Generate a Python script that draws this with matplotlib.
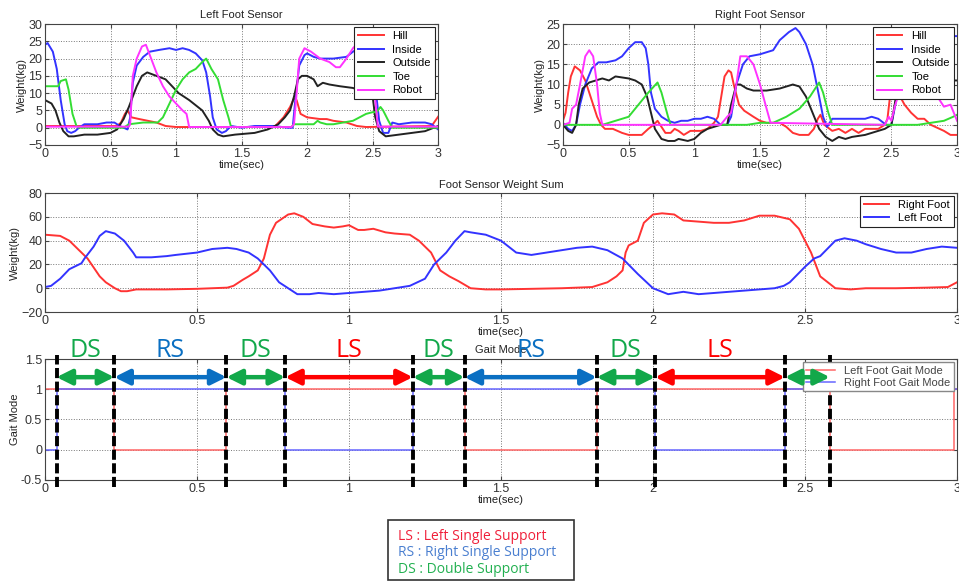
import matplotlib
matplotlib.use('Agg')
import matplotlib.pyplot as plt
from matplotlib.patches import Rectangle

plt.rcParams['font.family'] = ['Liberation Sans', 'DejaVu Sans']

## Data
# Left foot sensor (kg)
lf_hill_t = [0, 0.55, 0.58, 0.61, 0.63, 0.66, 0.72, 0.85, 0.92, 1.0, 1.75, 1.82, 1.87, 1.9, 1.92, 1.95, 2.0, 2.1,
             2.15, 2.2, 2.3, 2.38, 2.45, 2.95, 3.0]
lf_hill = [0.5, 0.5, 1.5, 4, 5, 3, 2.5, 1.5, 0.5, 0.2, 0.2, 3, 6, 8.5, 8, 4, 3, 2.5, 2.5, 2, 1.5, 0.5, 0.2, 0.5, 3.2]
lf_inside_t = [0, 0.02, 0.06, 0.09, 0.12, 0.15, 0.17, 0.2, 0.23, 0.26, 0.3, 0.4, 0.47, 0.53, 0.57, 0.6, 0.63, 0.65,
               0.67, 0.7, 0.75, 0.8, 0.87, 0.95, 1.0, 1.05, 1.1, 1.15, 1.2, 1.23, 1.26, 1.28, 1.31, 1.35, 1.38, 1.42,
               1.5, 1.6, 1.75, 1.85, 1.89, 1.91, 1.94, 1.98, 2.0, 2.05, 2.1, 2.2, 2.3, 2.35, 2.42, 2.5, 2.52, 2.55,
               2.58, 2.62, 2.65, 2.7, 2.8, 2.9, 2.95, 3.0]
lf_inside = [24, 24.5, 22, 17, 8, 1, -1, -1.5, -1, 0, 1, 1, 1.5, 1.5, 0.5, 0, -0.5, 3, 13, 18, 20.5, 22, 22.5, 23,
             22.5, 23, 22.5, 21.5, 19.5, 16, 9, 3, -0.5, -1.5, -1, 0.5, 0, 0.5, 0.5, 0, 0, 8, 18, 21, 21.5, 20.5,
             20, 20, 20.5, 22, 23.5, 23, 12, 2, -1.5, -1.5, 1.5, 1, 1.5, 1.5, 1, -0.5]
lf_outside_t = [0, 0.05, 0.08, 0.11, 0.14, 0.18, 0.22, 0.3, 0.4, 0.5, 0.55, 0.6, 0.64, 0.67, 0.7, 0.74, 0.78, 0.85,
                0.92, 0.97, 1.02, 1.1, 1.2, 1.25, 1.28, 1.32, 1.36, 1.45, 1.6, 1.7, 1.78, 1.83, 1.87, 1.9, 1.93,
                1.96, 2.0, 2.05, 2.08, 2.12, 2.17, 2.25, 2.35, 2.45, 2.5, 2.52, 2.55, 2.6, 2.7, 2.8, 2.9, 3.0]
lf_outside = [8, 7, 5, 1.5, -1, -2.5, -2.5, -2, -2, -1.5, -0.5, 2.5, 6, 9, 12, 15, 16, 15, 14, 12, 10, 8, 5, 2, -0.5,
              -2, -2.5, -2, -1.5, -0.5, 1, 3, 5, 9, 14, 15, 15, 14, 12, 13, 12.5, 12, 11.5, 10, 9, 3, -1, -2.5,
              -2, -1.5, -1, 0.5]
lf_toe_t = [0, 0.1, 0.12, 0.16, 0.18, 0.21, 0.24, 0.26, 0.6, 0.64, 0.75, 0.86, 0.9, 0.95, 1.0, 1.05, 1.1, 1.15, 1.2,
            1.23, 1.27, 1.32, 1.36, 1.4, 1.42, 1.88, 1.9, 2.05, 2.08, 2.1, 2.15, 2.2, 2.35, 2.4, 2.45, 2.5, 2.53,
            2.56, 2.58, 2.62, 2.65, 3.0]
lf_toe = [12, 12, 13.5, 14, 11, 4, 0.5, 0, 0, 1, 1.5, 1.5, 3, 7, 11, 14, 16, 17, 19, 20, 17, 14, 8, 3, 0.2, 0.2, 1,
          1, 2, 1.5, 1, 1, 2, 3, 4, 4.5, 4.5, 6, 5, 2, 0, 0]
lf_robot_t = [0, 0.64, 0.65, 0.67, 0.7, 0.74, 0.77, 0.8, 0.85, 0.9, 0.95, 1.0, 1.05, 1.08, 1.1, 1.88, 1.9, 1.92,
              1.94, 1.98, 2.03, 2.1, 2.17, 2.22, 2.25, 2.3, 2.35, 2.4, 2.46, 2.5, 2.52, 2.54, 3.0]
lf_robot = [0.3, 0.3, 1, 15, 20, 23.5, 24, 21, 16, 12, 9, 7, 5, 4, 0.2, 0.2, 1, 10, 20, 23, 22, 20, 19, 17.5, 17.5,
            20, 23, 25, 25, 20, 8, 0.3, 0.3]

# Right foot sensor (kg)
rf_hill_t = [0, 0.02, 0.04, 0.06, 0.09, 0.13, 0.17, 0.2, 0.23, 0.26, 0.29, 0.32, 0.38, 0.45, 0.5, 0.6, 0.65, 0.69,
             0.72, 0.75, 0.78, 0.82, 0.85, 0.88, 0.92, 0.97, 1.05, 1.1, 1.15, 1.18, 1.2, 1.23, 1.26, 1.28, 1.3,
             1.34, 1.38, 1.45, 1.5, 1.55, 1.65, 1.7, 1.75, 1.8, 1.87, 1.91, 1.94, 1.96, 1.99, 2.05, 2.1, 2.15, 2.2,
             2.25, 2.3, 2.4, 2.45, 2.47, 2.5, 2.55, 2.6, 2.65, 2.7, 2.75, 2.8, 2.9, 2.95, 3.0]
rf_hill = [1, 3, 8, 12, 14.5, 13.5, 11, 8, 5, 2, 0, -1, -1, -2, -2.5, -2.5, -1, 0, 1, -0.5, -2, -2, -1, -1.5, -2.5,
           -1.5, -1.5, -1, 0.5, 2, 6, 12, 13.5, 13, 10, 5, 3.5, 2, 1, 0.5, 0.5, -0.5, -2, -2.5, -2.5, -1, 1.5, 2.5,
           0, -1.5, -1, -2, -1, -2, -1, -1, 0, 1.5, 10, 8, 5, 3, 1.5, 1.5, 0, -1.5, -2.5, -2.5]
rf_inside_t = [0, 0.04, 0.07, 0.1, 0.13, 0.17, 0.22, 0.27, 0.33, 0.4, 0.45, 0.5, 0.55, 0.6, 0.63, 0.65, 0.67, 0.7,
               0.75, 0.8, 0.85, 0.9, 0.95, 1.0, 1.05, 1.1, 1.15, 1.2, 1.25, 1.28, 1.32, 1.37, 1.42, 1.5, 1.55, 1.6,
               1.65, 1.72, 1.77, 1.8, 1.85, 1.9, 1.95, 1.98, 2.01, 2.05, 2.1, 2.2, 2.3, 2.35, 2.4, 2.46, 2.5, 2.53,
               2.56, 2.6, 2.7, 2.8, 2.9, 2.97, 3.0]
rf_inside = [0.5, -1, -1.5, 0, 5, 10, 14, 15.5, 15.5, 16, 17, 19, 20.5, 20.5, 19, 15, 8, 4, 2, 1, 0.5, 1, 1, 1.5,
             1.5, 2, 1.5, 0, 0, 2, 10, 15, 17, 17.5, 18, 18.5, 21, 23, 24, 23, 20, 15, 7, 2, -0.5, 1.5, 1.5, 1.5,
             1.5, 2, 1.5, 0, 0, 5, 12, 18, 20, 21, 21.5, 22, 22]
rf_outside_t = [0, 0.04, 0.07, 0.1, 0.12, 0.15, 0.2, 0.25, 0.3, 0.35, 0.4, 0.5, 0.55, 0.6, 0.64, 0.67, 0.7, 0.75,
                0.8, 0.85, 0.88, 0.95, 1.0, 1.05, 1.1, 1.2, 1.25, 1.28, 1.32, 1.35, 1.4, 1.45, 1.55, 1.65, 1.75,
                1.8, 1.85, 1.9, 1.95, 2.0, 2.05, 2.1, 2.15, 2.2, 2.3, 2.4, 2.45, 2.5, 2.53, 2.56, 2.65, 2.8, 3.0]
rf_outside = [0, -1.5, -2, 0, 5, 9, 10.5, 11, 11.5, 11, 12, 11.5, 11, 10, 7, 3, -1, -3.5, -4, -4, -3.5, -4, -3.5,
              -2, -1, 0, 0, 5, 10, 10, 9, 8.5, 8.5, 9, 10, 9.5, 7, 3, -1, -3, -4, -3, -3.5, -3, -2.5, -1.5, -1, 0,
              6, 10, 11, 11, 11]
rf_toe_t = [0, 0.3, 0.35, 0.4, 0.45, 0.5, 0.55, 0.6, 0.65, 0.72, 0.75, 0.8, 0.82, 1.4, 1.5, 1.6, 1.7, 1.8, 1.88,
            1.95, 1.98, 2.02, 2.05, 2.7, 2.8, 2.9, 2.97, 3.0]
rf_toe = [0, 0, 0.5, 1, 1.5, 2, 4, 6, 8, 10.5, 8, 2, 0, 0, 0.5, 0.5, 2, 4, 7, 10.5, 8, 3, 0, 0, 0.5, 1, 2, 2.5]
rf_robot_t = [0, 0.05, 0.07, 0.1, 0.13, 0.17, 0.2, 0.23, 0.26, 0.28, 0.3, 1.2, 1.25, 1.28, 1.32, 1.35, 1.4, 1.45,
              1.5, 1.55, 1.58, 2.45, 2.48, 2.5, 2.53, 2.6, 2.7, 2.8, 2.85, 2.9, 2.95, 3.0]
rf_robot = [0, 0.5, 4, 5, 10, 17, 18.5, 17, 10, 3, 0, 0, 2, 3, 10, 17, 17, 15, 10, 4, 0.5, 0, 2, 1, 5, 12, 12, 8, 7,
            4.5, 5, 1]

# Weight sum (kg)
sum_right_t = [0, 0.05, 0.08, 0.1, 0.14, 0.18, 0.2, 0.23, 0.25, 0.27, 0.3, 0.4, 0.5, 0.55, 0.6, 0.62, 0.65, 0.67,
               0.7, 0.72, 0.74, 0.76, 0.8, 0.82, 0.85, 0.88, 0.92, 0.95, 0.98, 1.0, 1.03, 1.05, 1.08, 1.12, 1.15,
               1.2, 1.23, 1.27, 1.3, 1.33, 1.36, 1.4, 1.45, 1.5, 1.6, 1.7, 1.8, 1.85, 1.88, 1.9, 1.91, 1.92, 1.95,
               1.97, 2.0, 2.03, 2.07, 2.1, 2.15, 2.2, 2.25, 2.3, 2.35, 2.4, 2.45, 2.48, 2.52, 2.55, 2.6, 2.65, 2.7,
               2.8, 2.9, 2.97, 3.0]
sum_right = [45, 44, 40, 35, 25, 10, 5, 0, -2.5, -2.5, -1, -1, -0.5, 0, 0.5, 2, 7, 10, 15, 25, 45, 55, 62, 63, 60,
             54, 52, 51, 52, 53, 49, 49, 50, 47, 46, 45, 40, 30, 15, 10, 6, 0, -1, -1, -0.5, 0, 1, 5, 10, 15, 30,
             36, 40, 55, 62, 63, 62, 57, 56, 55, 55, 57, 61, 61, 58, 50, 30, 10, 0, -1, 0, 0, 0.5, 1, 5]
sum_left_t = [0, 0.02, 0.05, 0.08, 0.12, 0.13, 0.16, 0.18, 0.2, 0.23, 0.26, 0.29, 0.3, 0.35, 0.4, 0.43, 0.5, 0.55,
              0.6, 0.63, 0.67, 0.7, 0.74, 0.77, 0.8, 0.83, 0.87, 0.9, 0.95, 1.0, 1.05, 1.1, 1.15, 1.2, 1.25, 1.28,
              1.32, 1.35, 1.38, 1.4, 1.45, 1.5, 1.55, 1.6, 1.65, 1.7, 1.75, 1.8, 1.85, 1.9, 1.95, 2.0, 2.05, 2.1,
              2.15, 2.2, 2.3, 2.4, 2.43, 2.45, 2.5, 2.53, 2.55, 2.6, 2.63, 2.67, 2.7, 2.75, 2.8, 2.85, 2.9, 2.95,
              3.0]
sum_left = [1, 2, 8, 16, 21, 25, 35, 44, 48, 46, 40, 30, 26, 26, 27, 28, 30, 33, 34, 33, 30, 25, 15, 5, 0, -5, -5,
            -4, -5, -4, -3, -2, 0, 2, 8, 20, 30, 40, 48, 47, 45, 40, 30, 28, 30, 32, 34, 35, 32, 25, 12, 0, -5, -3,
            -5, -4, -2, 0, 2, 5, 18, 25, 27, 40, 42, 40, 37, 33, 30, 30, 33, 35, 34]

# Gait mode switching times
left_mode_t = [0, 0.228, 0.597, 1.38, 1.815, 2.582, 2.99, 3.0]
left_mode = [1, 0, 1, 0, 1, 0, 1, 1]
right_mode_t = [0, 0.038, 0.79, 1.21, 2.007, 2.434, 3.0]
right_mode = [0, 1, 0, 1, 0, 1, 1]

# Phase boundaries and names
phase_bounds = [0.038, 0.228, 0.597, 0.79, 1.21, 1.38, 1.815, 2.007, 2.434, 2.582]
phase_names = ['DS', 'RS', 'DS', 'LS', 'DS', 'RS', 'DS', 'LS', '']
phase_colors = {'DS': '#12a84a', 'RS': '#0a6fc2', 'LS': '#ff0000'}
phase_arrow_keys = ['DS', 'RS', 'DS', 'LS', 'DS', 'RS', 'DS', 'LS', 'DS']

x_ticks = [0, 0.5, 1, 1.5, 2, 2.5, 3]
x_ticklabels = ['0', '0.5', '1', '1.5', '2', '2.5', '3']

sensor_names = ['Hill', 'Inside', 'Outside', 'Toe', 'Robot']
sensor_colors = ['#ff3333', '#3333ff', '#222222', '#33dd33', '#ff33ff']

FS = 8


def matlab_axes(ax, xlab='time(sec)', ylab='Weight(kg)'):
    ax.set_xlim(0, 3)
    ax.set_xticks(x_ticks)
    ax.set_xticklabels(x_ticklabels)
    ax.grid(True, linestyle=':', color='#777777', linewidth=0.7)
    ax.tick_params(direction='in', length=3, labelsize=FS + 1, top=True, right=True, pad=2,
                   color='#444444', labelcolor='#333333')
    for s in ax.spines.values():
        s.set_color('#444444')
        s.set_linewidth(0.8)
    ax.set_xlabel(xlab, fontsize=FS, labelpad=0, color='#222222')
    ax.set_ylabel(ylab, fontsize=FS, labelpad=1, color='#222222')


def sensor_legend(ax, spacing=0.32):
    leg = ax.legend(loc='upper right', fontsize=FS, handlelength=2.3, borderaxespad=0.3,
                    labelspacing=spacing, fancybox=False, framealpha=1, borderpad=0.35)
    leg.get_frame().set_edgecolor('#222222')
    leg.get_frame().set_linewidth(0.8)


fig = plt.figure(figsize=(9.59, 5.83), dpi=100)

# Left foot
ax1 = fig.add_axes([0.0469, 0.7513, 0.41, 0.2075])
for t, v, n, c in zip([lf_hill_t, lf_inside_t, lf_outside_t, lf_toe_t, lf_robot_t],
                      [lf_hill, lf_inside, lf_outside, lf_toe, lf_robot], sensor_names, sensor_colors):
    ax1.plot(t, v, color=c, lw=1.4, label=n)
ax1.set_ylim(-5, 30)
ax1.set_yticks(range(-5, 31, 5))
ax1.set_title('Left Foot Sensor', fontsize=FS, pad=4, color='#222222')
matlab_axes(ax1)
sensor_legend(ax1)

# Right foot
ax2 = fig.add_axes([0.587, 0.7513, 0.411, 0.2075])
for t, v, n, c in zip([rf_hill_t, rf_inside_t, rf_outside_t, rf_toe_t, rf_robot_t],
                      [rf_hill, rf_inside, rf_outside, rf_toe, rf_robot], sensor_names, sensor_colors):
    ax2.plot(t, v, color=c, lw=1.4, label=n)
ax2.set_ylim(-5, 25)
ax2.set_yticks(range(-5, 26, 5))
ax2.set_title('Right Foot Sensor', fontsize=FS, pad=4, color='#222222')
matlab_axes(ax2)
sensor_legend(ax2)

# Weight sum
ax3 = fig.add_axes([0.0469, 0.4648, 0.951, 0.204])
ax3.plot(sum_right_t, sum_right, color='#ff3333', lw=1.4, label='Right Foot')
ax3.plot(sum_left_t, sum_left, color='#3333ff', lw=1.4, label='Left Foot')
ax3.set_ylim(-20, 80)
ax3.set_yticks(range(-20, 81, 20))
ax3.set_title('Foot Sensor Weight Sum', fontsize=FS, pad=4, color='#222222')
matlab_axes(ax3)
sensor_legend(ax3, spacing=0.25)

# Gait mode
ax4 = fig.add_axes([0.0469, 0.1767, 0.951, 0.2075])
ax4.plot(left_mode_t, left_mode, color='#ff6666', lw=1.1, drawstyle='steps-post', label='Left Foot Gait Mode')
ax4.plot(right_mode_t, right_mode, color='#6666ff', lw=1.1, drawstyle='steps-post', label='Right Foot Gait Mode')
ax4.set_ylim(-0.5, 1.5)
ax4.set_yticks([-0.5, 0, 0.5, 1, 1.5])
ax4.set_yticklabels(['-0.5', '0', '0.5', '1', '1.5'])
ax4.set_title('Gait Mode', fontsize=FS, pad=4, color='#222222')
matlab_axes(ax4, ylab='Gait Mode')
leg = ax4.legend(loc='upper right', fontsize=FS, handlelength=2.6, borderaxespad=0.3, labelspacing=0.2,
                 fancybox=False, framealpha=1, borderpad=0.3)
leg.get_frame().set_edgecolor('#888888')
for txt in leg.get_texts():
    txt.set_color('#444444')

# phase boundaries
for b in phase_bounds:
    ax4.plot([b, b], [-0.62, 1.57], color='black', lw=2.8, dashes=(2.6, 0.9), clip_on=False, zorder=5)

# phase arrows and names
for i in range(len(phase_bounds) - 1):
    a, b = phase_bounds[i], phase_bounds[i + 1]
    col = phase_colors[phase_arrow_keys[i]]
    ax4.annotate('', xy=(b, 1.2), xytext=(a, 1.2),
                 arrowprops=dict(arrowstyle='<|-|>,head_length=0.9,head_width=0.45', lw=3.2, color=col,
                                 shrinkA=0, shrinkB=0), zorder=6)
    if phase_names[i]:
        ax4.text((a + b) / 2, 1.64, phase_names[i], fontsize=18, family='Open Sans',
                 color=phase_colors[phase_names[i]], ha='center', va='center', zorder=7, clip_on=False)

# key box
fig.patches.append(Rectangle((0.4046, 0.0052), 0.194, 0.103, transform=fig.transFigure,
                             fill=False, edgecolor='#333333', lw=1.2))
key_lines = ['LS : Left Single Support', 'RS : Right Single Support', 'DS : Double Support']
key_colors = ['#f0203a', '#4a7fd0', '#22b050']
key_y = [0.0796, 0.0515, 0.0235]
for s, c, y in zip(key_lines, key_colors, key_y):
    fig.text(0.4155, y, s, color=c, fontsize=10, family='Open Sans', va='center', ha='left')

fig.savefig('out.png', dpi=100)
